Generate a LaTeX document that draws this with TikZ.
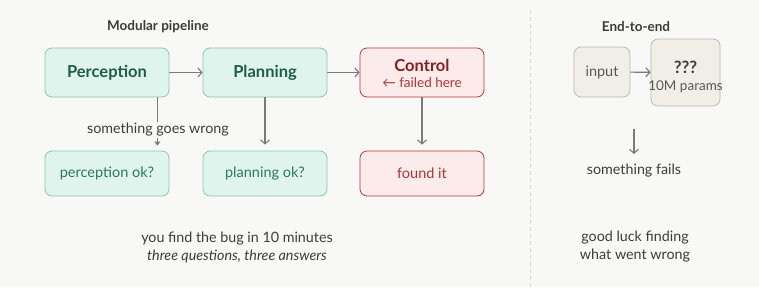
\documentclass[tikz,border=0pt]{standalone}
\usepackage{fontspec}
\setmainfont{Lato}
\usetikzlibrary{arrows.meta}
\definecolor{bg}{HTML}{F8F8F6}
\definecolor{gfill}{HTML}{E0F4EE}
\definecolor{gline}{HTML}{8CC6B0}
\definecolor{gtext}{HTML}{1E5E46}
\definecolor{gtext2}{HTML}{2A7A5C}
\definecolor{rfill}{HTML}{FCEBEB}
\definecolor{rline}{HTML}{B53A3A}
\definecolor{rtext}{HTML}{8A1E1E}
\definecolor{rtext2}{HTML}{B03535}
\definecolor{bfill}{HTML}{F1EEE8}
\definecolor{bline}{HTML}{BDB8AE}
\definecolor{btext}{HTML}{5A5854}
\definecolor{dtext}{HTML}{3C3C3A}
\definecolor{arr}{HTML}{7A7A78}
\begin{document}
\begin{tikzpicture}[x=1pt,y=-1pt,
  gbox/.style={draw=gline,fill=gfill,rounded corners=7pt,line width=0.8pt,text=gtext,minimum width=124pt},
  rbox/.style={draw=rline,fill=rfill,rounded corners=7pt,line width=0.8pt,minimum width=124pt},
  bbox/.style={draw=bline,fill=bfill,rounded corners=7pt,line width=0.8pt,text=btext},
  conn/.style={draw=arr,line width=1.1pt,-{Straight Barb[length=4pt,width=9pt,line width=1.1pt]}},
  title/.style={text=dtext,font=\bfseries\fontsize{13.5}{15}\selectfont},
  lbl/.style={text=dtext,font=\fontsize{14.3}{18}\selectfont},
  big/.style={font=\bfseries\fontsize{16.5}{18}\selectfont},
  small/.style={font=\fontsize{14.5}{16}\selectfont}]
\fill[bg] (0,0) rectangle (759,287);
\useasboundingbox (0,0) rectangle (759,287);
\draw[draw=black!15,dash pattern=on 4pt off 3pt,line width=0.6pt] (530,10) -- (530,287);

\node[title] (t1) at (158,27) {Modular pipeline};
\node[title] (t2) at (636,27) {End-to-end};

\node[gbox,minimum height=49pt,big] (per) at (107,72.5) {Perception};
\node[gbox,minimum height=49pt,big] (pla) at (265,72.5) {Planning};
\node[rbox,minimum height=49pt] (con) at (422,72.5) {};
\node[big,text=rtext] (ctl) at (422,65) {Control};
\node[text=rtext2,font=\fontsize{13.5}{15}\selectfont] (fh) at (422,83) {\char"2190\ failed here};

\node[gbox,minimum height=45pt,text=gtext2,small] (pok) at (107,173.5) {perception ok?};
\node[gbox,minimum height=45pt,text=gtext2,small] (plok) at (265,173.5) {planning ok?};
\node[rbox,minimum height=45pt,text=rtext2,small] (found) at (422,173.5) {found it};

\draw[conn] (per) -- (pla);
\draw[conn] (pla) -- (con);
\draw[draw=arr,line width=1.1pt,-{Triangle[length=4pt,width=6pt]}] ([xshift=-12pt]per.south east) -- ([xshift=-12pt,yshift=5pt]pok.north east);
\node[lbl,fill=bg,inner sep=1pt] (sgw) at (158,130) {something goes wrong};
\draw[conn] (pla) -- ([yshift=6pt]plok.north);
\draw[conn] (con) -- ([yshift=6pt]found.north);

\node[bbox,minimum width=56pt,minimum height=50pt,small] (inp) at (602,72) {input};
\node[bbox,minimum width=69pt,minimum height=67pt] (blk) at (685.5,72.5) {};
\node[text=dtext,font=\bfseries\fontsize{17}{18}\selectfont] (q) at (685.5,67) {???};
\node[text=btext,font=\fontsize{13.5}{15}\selectfont] (par) at (685.5,87) {10M params};
\draw[conn] (inp) -- (blk);

\coordinate (d1) at (634,129);
\coordinate (d2) at (634,154);
\draw[conn] (d1) -- (d2);
\node[lbl] (sf) at (634,171) {something fails};

\node[lbl,align=center] (b1) at (237,247) {you find the bug in 10 minutes\\{\itshape three questions, three answers}};
\node[lbl,align=center] (b2) at (635,247) {good luck finding\\what went wrong};
\end{tikzpicture}
\end{document}
